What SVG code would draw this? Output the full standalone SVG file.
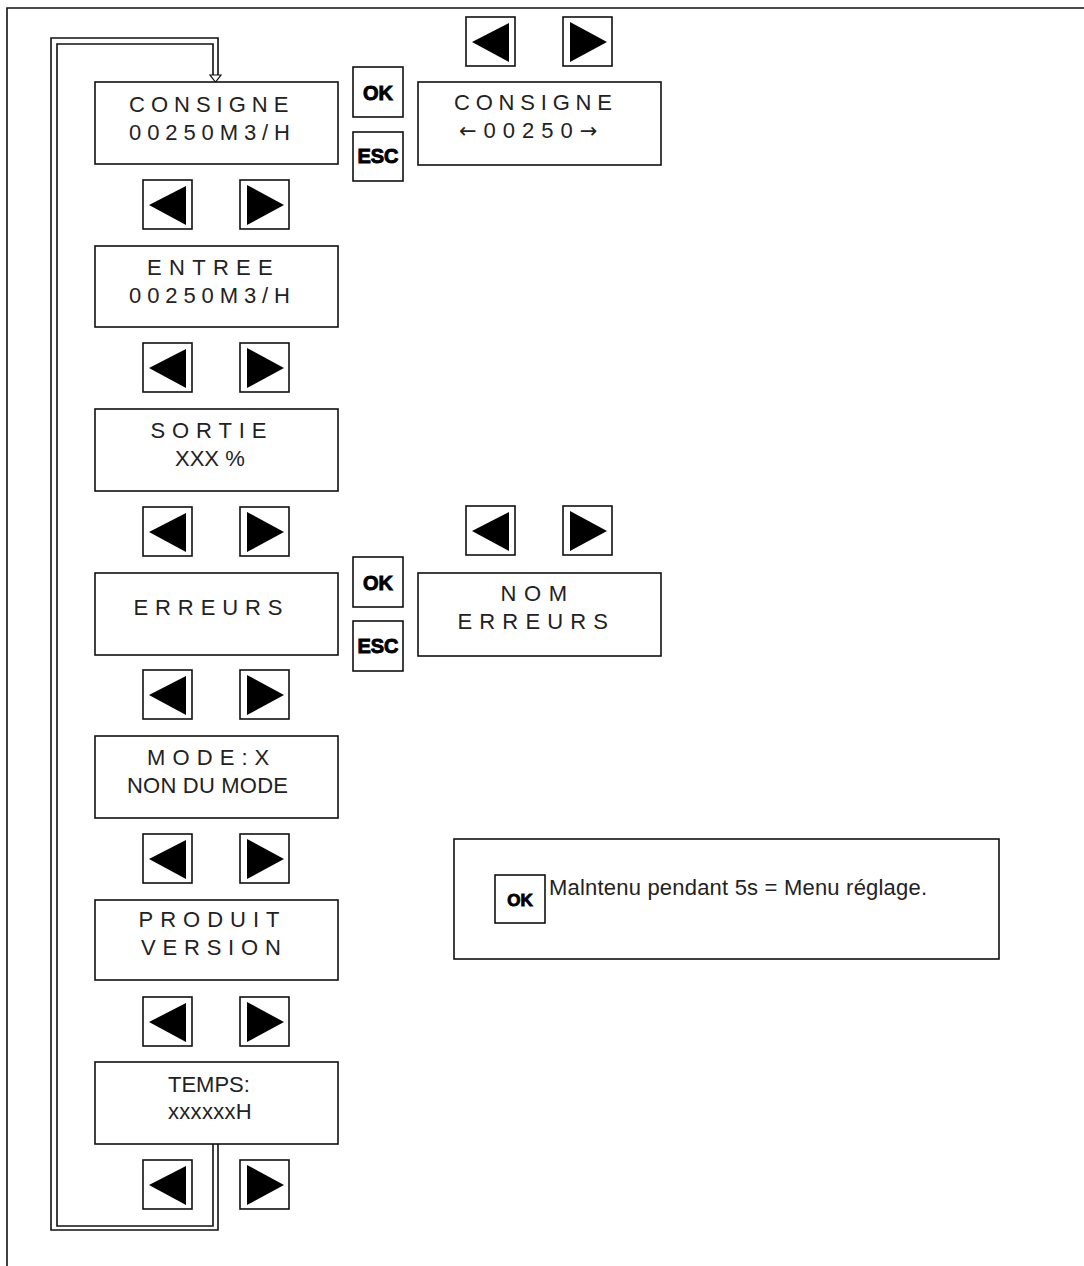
<svg xmlns="http://www.w3.org/2000/svg" xmlns:xlink="http://www.w3.org/1999/xlink" width="1084" height="1266" viewBox="0 0 1084 1266">
<style>
.box{fill:#fff;stroke:#111;stroke-width:1.6}
.btn{fill:#fff;stroke:#111;stroke-width:1.6}
.tri{fill:#000}
.t{font-family:"Liberation Sans",Arial,sans-serif;font-size:22px;fill:#222}
.ar{font-family:"DejaVu Sans",sans-serif;font-size:21px}
.k{font-family:"Liberation Sans",Arial,sans-serif;font-weight:bold;font-size:20px;fill:#000;stroke:#000;stroke-width:0.9;text-anchor:middle}
.ln{fill:none;stroke:#111;stroke-width:1.6}
</style>
<defs>
<g id="bl"><rect class="btn" x="0" y="0" width="49" height="49"/><polygon class="tri" points="6,25 43,6 43,45"/></g>
<g id="br"><rect class="btn" x="0" y="0" width="49" height="49"/><polygon class="tri" points="7,5 44,25 7,45"/></g>
</defs>
<rect width="1084" height="1266" fill="#fff"/>
<path class="ln" d="M7,1266 V8 H1084"/>

<g id="connectors">
<path class="ln" d="M218,75 V38 H51 V1230 H218 V1144"/>
<path class="ln" d="M213,75 V44 H57 V1226 H213 V1144"/>
<polygon points="210,75 221,75 215.5,82" fill="#fff" stroke="#111" stroke-width="1.2"/>
</g>

<g id="consigne">
<rect class="box" x="95" y="82" width="243" height="82"/>
<text class="t" x="129" y="112" letter-spacing="6">CONSIGNE</text>
<text class="t" x="129" y="140" letter-spacing="5.9">00250M3/H</text>
</g>
<g id="nav1"><use xlink:href="#bl" x="143" y="180"/><use xlink:href="#br" x="240" y="180"/></g>

<g id="entree">
<rect class="box" x="95" y="246" width="243" height="81"/>
<text class="t" x="147" y="275" letter-spacing="7.3">ENTREE</text>
<text class="t" x="129" y="303" letter-spacing="5.9">00250M3/H</text>
</g>
<g id="nav2"><use xlink:href="#bl" x="143" y="343"/><use xlink:href="#br" x="240" y="343"/></g>

<g id="sortie">
<rect class="box" x="95" y="409" width="243" height="82"/>
<text class="t" x="150.5" y="438" letter-spacing="6.9">SORTIE</text>
<text class="t" x="175" y="466">XXX %</text>
</g>
<g id="nav3"><use xlink:href="#bl" x="143" y="507"/><use xlink:href="#br" x="240" y="507"/></g>

<g id="erreurs">
<rect class="box" x="95" y="573" width="243" height="82"/>
<text class="t" x="133.5" y="615" letter-spacing="6.9">ERREURS</text>
</g>
<g id="nav4"><use xlink:href="#bl" x="143" y="670"/><use xlink:href="#br" x="240" y="670"/></g>

<g id="mode">
<rect class="box" x="95" y="736" width="243" height="82"/>
<text class="t" x="147" y="765" letter-spacing="7.1">MODE:X</text>
<text class="t" x="127" y="793" letter-spacing="0.2">NON DU MODE</text>
</g>
<g id="nav5"><use xlink:href="#bl" x="143" y="834"/><use xlink:href="#br" x="240" y="834"/></g>

<g id="produit">
<rect class="box" x="95" y="900" width="243" height="80"/>
<text class="t" x="138.5" y="927" letter-spacing="7">PRODUIT</text>
<text class="t" x="141" y="955" letter-spacing="6.8">VERSION</text>
</g>
<g id="nav6"><use xlink:href="#bl" x="143" y="997"/><use xlink:href="#br" x="240" y="997"/></g>

<g id="temps">
<rect class="box" x="95" y="1062" width="243" height="82"/>
<text class="t" x="168" y="1092">TEMPS:</text>
<text class="t" x="168" y="1119" letter-spacing="0.3">xxxxxxH</text>
</g>
<g id="nav7"><use xlink:href="#bl" x="143" y="1160"/><use xlink:href="#br" x="240" y="1160"/></g>

<g id="consigne-keys">
<rect class="btn" x="353" y="67" width="50" height="50"/>
<text class="k" x="378" y="100">OK</text>
<rect class="btn" x="353" y="132" width="50" height="49"/>
<text class="k" x="378" y="163">ESC</text>
</g>
<g id="consigne-edit">
<rect class="box" x="418" y="82" width="243" height="83"/>
<text class="t" x="454" y="110" letter-spacing="5.8">CONSIGNE</text>
<text class="t" x="459" y="138" letter-spacing="7"><tspan class="ar">←</tspan>00250<tspan class="ar">→</tspan></text>
</g>
<g id="nav-edit"><use xlink:href="#bl" x="466" y="17"/><use xlink:href="#br" x="563" y="17"/></g>

<g id="erreurs-keys">
<rect class="btn" x="353" y="557" width="50" height="50"/>
<text class="k" x="378" y="590">OK</text>
<rect class="btn" x="353" y="621" width="50" height="50"/>
<text class="k" x="378" y="653">ESC</text>
</g>
<g id="nom-erreurs">
<rect class="box" x="418" y="573" width="243" height="83"/>
<text class="t" x="500.5" y="601" letter-spacing="7.6">NOM</text>
<text class="t" x="457.5" y="629" letter-spacing="7.15">ERREURS</text>
</g>
<g id="nav-err"><use xlink:href="#bl" x="466" y="506"/><use xlink:href="#br" x="563" y="506"/></g>

<g id="legend">
<rect class="box" x="454" y="839" width="545" height="120"/>
<rect class="btn" x="495" y="875" width="50" height="48"/>
<text class="k" x="520" y="906" style="font-size:17px">OK</text>
<text class="t" x="549" y="895" letter-spacing="0.2">Malntenu pendant 5s = Menu réglage.</text>
</g>
</svg>
